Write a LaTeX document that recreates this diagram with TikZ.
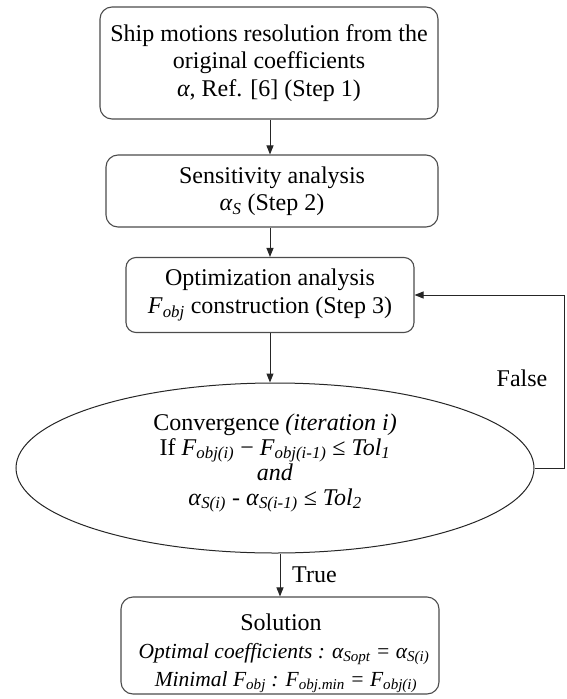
\documentclass[tikz,border=0pt]{standalone}
\usepackage{fontspec}
\setmainfont{Liberation Serif}
\usetikzlibrary{arrows.meta,shapes.geometric}
\newcommand{\lo}[1]{\textsubscript{\itshape #1}}
\begin{document}
\begin{tikzpicture}[x=1pt,y=-1pt,
  box/.style={draw=black!70, line width=1.1pt, rounded corners=12pt, align=center, inner sep=0pt,
    font=\fontsize{24}{27.5}\selectfont},
  txt/.style={align=center, inner sep=0pt, font=\fontsize{24}{25}\selectfont},
  itl/.style={inner sep=0pt, font=\fontsize{21.5}{26}\selectfont\itshape},
  arr/.style={-{Triangle[length=9pt,width=7pt]}, line width=1pt, draw=black!85}]
\useasboundingbox (0,0) rectangle (566,699);
\node[box, minimum width=338pt, minimum height=112pt] (b1) at (269,63)
  {Ship motions resolution from the\\ original coefficients\\ \textit{α}, Ref. [6] (Step 1)};
\node[box, minimum width=332pt, minimum height=72pt] (b2) at (272,191)
  {Sensitivity analysis\\ \textit{α}\lo{S} (Step 2)};
\node[box, rounded corners=10pt, minimum width=288pt, minimum height=75pt] (b3) at (270,295)
  {Optimization analysis\\ \textit{F}\lo{obj} construction (Step 3)};
\node[ellipse, draw=black!85, line width=1pt, minimum width=518pt, minimum height=170pt] (ell) at (275,468) {};
\node[txt] (etext) at (275,463)
  {Convergence \textit{(iteration i)}\\
   If \textit{F}\lo{obj(i)} − \textit{F}\lo{obj(i-1)} ≤ \textit{Tol}\lo{1}\\
   \textit{and}\\
   \textit{α}\lo{S(i)} - \textit{α}\lo{S(i-1)} ≤ \textit{Tol}\lo{2}};
\node[box, minimum width=318pt, minimum height=97pt] (b4) at (280,645.5) {};
\node[txt, anchor=base] (sol) at (281,630) {Solution};
\node[itl, anchor=base] (opt) at (284,658) {Optimal coefficients : α\lo{Sopt} = α\lo{S(i)}};
\node[itl, anchor=base] (mini) at (286,686) {Minimal F\lo{obj} : F\lo{obj.min} = F\lo{obj(i)}};
\draw[arr] (b1.south -| b3.north) -- (b2.north -| b3.north);
\draw[arr] (b2.south -| b3.north) -- (b3.north);
\draw[arr] (b3.south) -- (b3.south |- ell.north);
\draw[arr] (b4.north |- ell.south) -- (b4.north);
\draw[arr] (ell.east) -- ++(30,0) |- (b3.east);
\node[txt, anchor=base] (false) at (522,386) {False};
\node[txt, anchor=base west] (true) at (292,582) {True};
\end{tikzpicture}
\end{document}
